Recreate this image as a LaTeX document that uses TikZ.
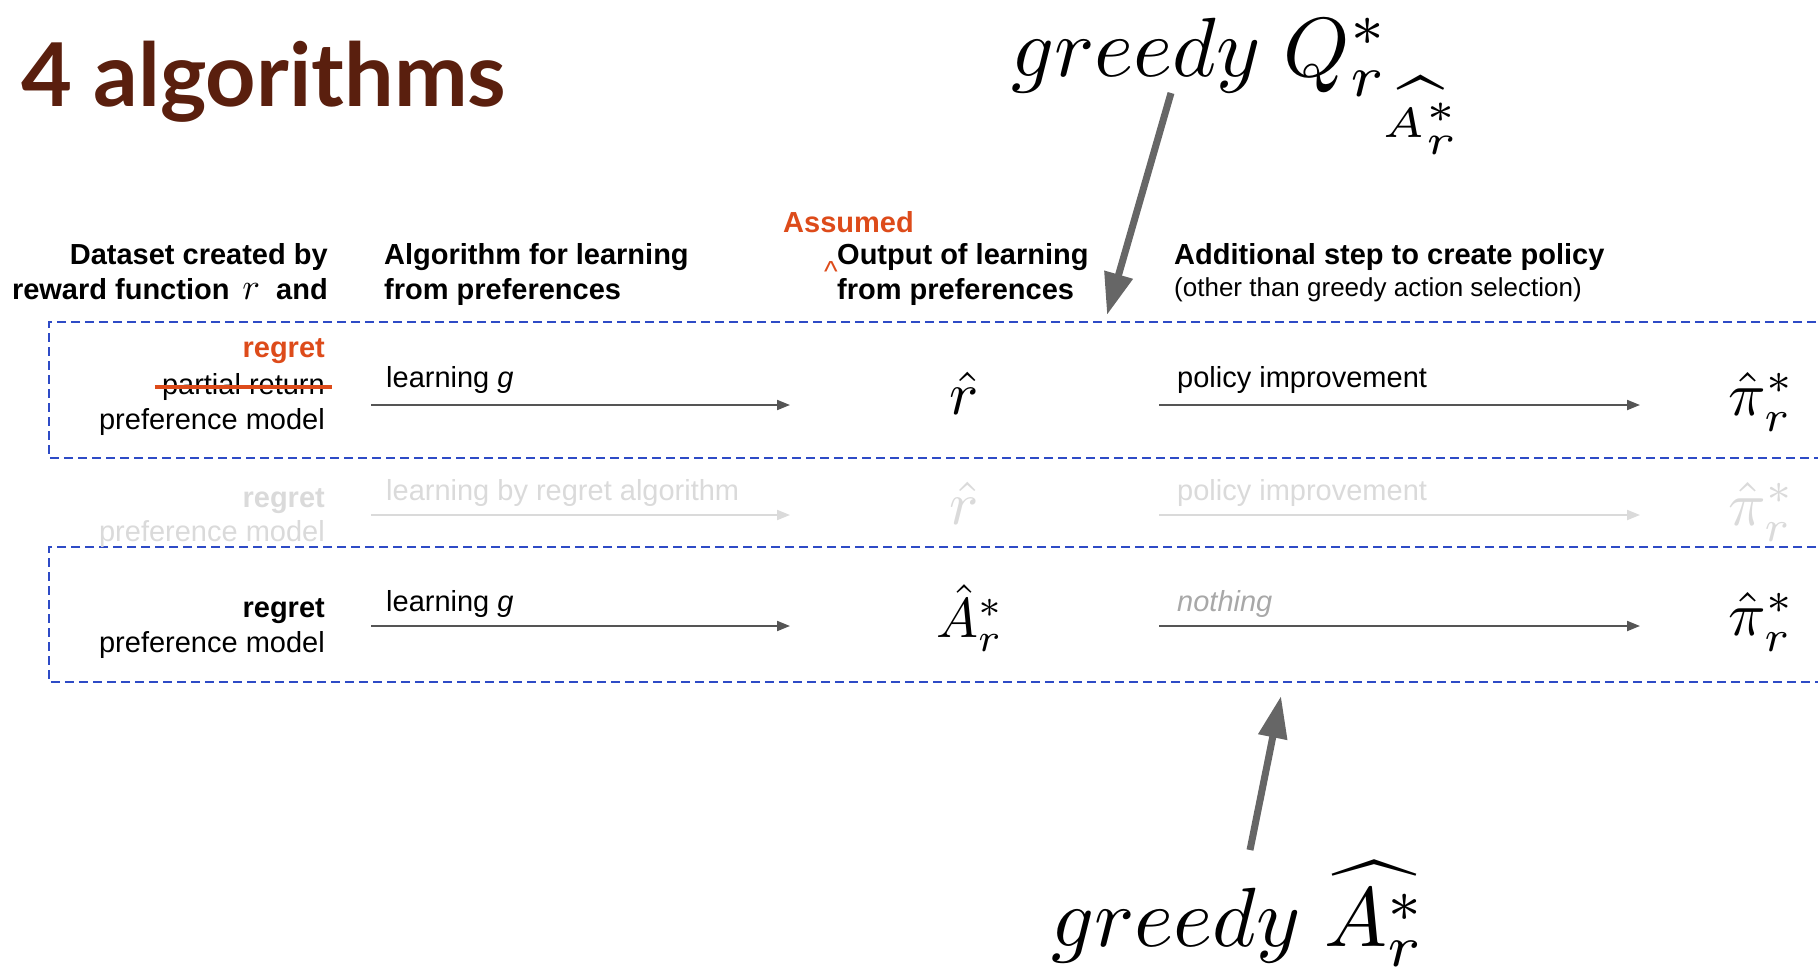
\documentclass[tikz,border=0pt]{standalone}
\usepackage{graphicx}
\usepackage{fontspec}
\setmainfont{Liberation Sans}
\newfontfamily\titlefont{Lato}
\usetikzlibrary{arrows.meta}
\definecolor{titlebrown}{HTML}{5A1F0E}
\definecolor{accent}{HTML}{DD4B1A}
\definecolor{boxblue}{HTML}{2E4BC6}
\definecolor{arrowgray}{HTML}{666666}
\definecolor{flowgray}{HTML}{555555}
\definecolor{fade}{HTML}{DADADA}
\definecolor{nothinggray}{HTML}{A8A8A8}
\newcommand{\mySym}[2][6]{\scalebox{#1}{\fontsize{10}{12}\selectfont$#2$}}
\newcommand{\myBigMath}[1]{\scalebox{8.4}{\fontsize{10}{12}\selectfont$#1$}}
\newcommand{\myHdrMath}[1]{\scalebox{3.7}{\fontsize{10}{12}\selectfont$#1$}}
\tikzset{
  hdr/.style={font=\fontsize{29}{35}\selectfont\bfseries, inner sep=0pt},
  hdrsmall/.style={font=\fontsize{26}{31}\selectfont, inner sep=0pt},
  body/.style={font=\fontsize{29}{35}\selectfont, inner sep=0pt},
  bodybold/.style={font=\fontsize{29}{35}\selectfont\bfseries, inner sep=0pt},
  sym/.style={inner sep=0pt},
  bigmath/.style={inner sep=0pt},
  flow/.style={draw=flowgray, line width=2pt, -{Triangle[length=13pt,width=10pt]}},
  fadeflow/.style={draw=fade, line width=2pt, -{Triangle[length=13pt,width=10pt]}},
  bigarrow/.style={draw=arrowgray, line width=7pt, -{Triangle[length=42pt,width=28pt]}},
  dbox/.style={draw=boxblue, line width=2pt, dash pattern=on 9pt off 5pt},
}
\begin{document}
\begin{tikzpicture}[x=1pt,y=-1pt]
\useasboundingbox (0,0) rectangle (1818,967);
\clip (0,0) rectangle (1818,967);

% title
\node[anchor=base west, inner sep=0pt, text=titlebrown, font=\titlefont\bfseries\fontsize{88}{98}\selectfont] (title) at (21,106) {4 algorithms};

% big annotations
\node[bigmath, anchor=base west] (gq) at (1011,76) {\myBigMath{greedy\ Q^*_{r_{\widehat{A^*_r}}}}};
\node[bigmath, anchor=base west] (ga) at (1051,946) {\myBigMath{greedy\ \widehat{A^*_r}}};

% column headers
\node[hdr, anchor=base east] (h1a) at (328,264) {Dataset created by};
\node[hdr, anchor=base east] (h1b) at (328,299) {reward function \,\myHdrMath{r} \ and};
\node[hdr, anchor=base west] (h2a) at (384,264) {Algorithm for learning};
\node[hdr, anchor=base west] (h2b) at (384,299) {from preferences};
\node[hdr, anchor=base west, text=accent] (assumed) at (783,232) {Assumed};
\node[body, anchor=base west, text=accent] (caret) at (824,281) {\textasciicircum};
\node[hdr, anchor=base west] (h3a) at (837,264) {Output of learning};
\node[hdr, anchor=base west] (h3b) at (837,299) {from preferences};
\node[hdr, anchor=base west] (h4a) at (1174,264) {Additional step to create policy};
\node[hdrsmall, anchor=base west] (h4b) at (1174,296) {(other than greedy action selection)};

% dashed boxes
\draw[dbox] (1830,322) -- (49,322) -- (49,458) -- (1830,458);
\draw[dbox] (1830,547) -- (49,547) -- (49,682) -- (1830,682);

% row 1
\node[bodybold, anchor=base east, text=accent] (r1a) at (325,357) {regret};
\node[body, anchor=base east] (r1b) at (325,394) {partial return};
\draw[accent, line width=4pt] ([xshift=-7pt]r1b.west) -- ([xshift=7pt]r1b.east);
\node[body, anchor=base east] (r1c) at (325,429) {preference model};
\node[body, anchor=base west] (r1l) at (386,387) {learning \textit{g}};
\coordinate (r1s) at (371,405);
\coordinate (r1e) at (790,405);
\draw[flow] (r1s) -- (r1e);
\node[sym] (r1o) at (964,393) {\mySym[6.1]{\hat{r}}};
\node[body, anchor=base west] (r1p) at (1177,387) {policy improvement};
\coordinate (r1s2) at (1159,405);
\coordinate (r1e2) at (1640,405);
\draw[flow] (r1s2) -- (r1e2);
\node[sym] (r1pi) at (1762,402) {\mySym[6.2]{\hat{\pi}^*_r}};

% row 2 (faded)
\node[bodybold, anchor=base east, text=fade] (r2a) at (325,507) {regret};
\node[body, anchor=base east, text=fade] (r2b) at (325,541) {preference model};
\node[body, anchor=base west, text=fade] (r2l) at (386,500) {learning by regret algorithm};
\coordinate (r2s) at (371,515);
\coordinate (r2e) at (790,515);
\draw[fadeflow] (r2s) -- (r2e);
\node[sym, text=fade] (r2o) at (964,503) {\mySym[6.1]{\hat{r}}};
\node[body, anchor=base west, text=fade] (r2p) at (1177,500) {policy improvement};
\coordinate (r2s2) at (1159,515);
\coordinate (r2e2) at (1640,515);
\draw[fadeflow] (r2s2) -- (r2e2);
\node[sym, text=fade] (r2pi) at (1762,512) {\mySym[6.2]{\hat{\pi}^*_r}};

% row 3
\node[bodybold, anchor=base east] (r3a) at (325,617) {regret};
\node[body, anchor=base east] (r3b) at (325,652) {preference model};
\node[body, anchor=base west] (r3l) at (386,611) {learning \textit{g}};
\coordinate (r3s) at (371,626);
\coordinate (r3e) at (790,626);
\draw[flow] (r3s) -- (r3e);
\node[sym] (r3o) at (970,618) {\mySym[5.6]{\hat{A}^*_r}};
\node[body, anchor=base west, text=nothinggray] (r3p) at (1177,611) {\textit{nothing}};
\coordinate (r3s2) at (1159,626);
\coordinate (r3e2) at (1640,626);
\draw[flow] (r3s2) -- (r3e2);
\node[sym] (r3pi) at (1762,622) {\mySym[6.2]{\hat{\pi}^*_r}};

% big arrows
\coordinate (a1s) at (1171,93);
\coordinate (a1e) at (1107,315);
\draw[bigarrow] (a1s) -- (a1e);
\coordinate (a2s) at (1250,850);
\coordinate (a2e) at (1281,696);
\draw[bigarrow] (a2s) -- (a2e);
\end{tikzpicture}
\end{document}
